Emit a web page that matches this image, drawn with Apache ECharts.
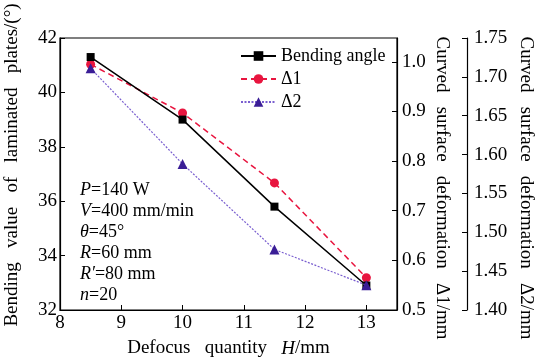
<!DOCTYPE html>
<html>
<head>
<meta charset="utf-8">
<script src="https://cdn.jsdelivr.net/npm/echarts@6/dist/echarts.min.js"></script>
<style>html,body{margin:0;padding:0;background:#fff}#c{width:537px;height:358px}</style>
</head>
<body>
<div id="c"></div>
<script>
const xValues = [8.5, 10, 11.5, 13];
const bendingAngle = [41.3, 39.0, 35.8, 32.9];
const delta1 = [0.995, 0.897, 0.756, 0.565];
const delta2 = [1.711, 1.588, 1.478, 1.432];
const seriesNames = ['Bending angle', 'Δ1', 'Δ2'];
const paramLines = ['{i|P}=140 W', '{i|V}=400 mm/min', '{i|θ}=45°', '{i|R}=60 mm', "{i|R′}=80 mm", '{i|n}=20'];

const F = '"Liberation Serif","Times New Roman",serif';
const pair = (arr) => xValues.map((x, i) => [x, arr[i]]);

const chart = echarts.init(document.getElementById('c'));
chart.setOption({
  animation: false,
  backgroundColor: '#fff',
  textStyle: { fontFamily: F },
  grid: { left: 60, top: 38, right: 140, bottom: 48, outerBoundsMode: 'none', containLabel: false, show: true, borderColor: '#000', borderWidth: 1.2, backgroundColor: 'transparent' },
  legend: {
    orient: 'vertical', left: 235, top: 42, itemWidth: 35, itemHeight: 12, itemGap: 5,
    textStyle: { fontFamily: F, fontSize: 18, color: '#000', lineHeight: 18 },
    data: seriesNames
  },
  xAxis: {
    type: 'value', min: 8, max: 13.5, interval: 1,
    name: 'Defocus   quantity   {i|H}/mm', nameLocation: 'middle', nameGap: 29, nameMoveOverlap: false,
    nameTextStyle: { fontFamily: F, fontSize: 19, color: '#000', rich: { i: { fontFamily: F, fontSize: 19, fontStyle: 'italic', color: '#000' } } },
    axisLine: { lineStyle: { color: '#000', width: 1.2 } },
    axisTick: { inside: true, length: 5, lineStyle: { color: '#000' } },
    axisLabel: { fontFamily: F, fontSize: 19, color: '#000', showMaxLabel: false, margin: 4 },
    splitLine: { show: false }
  },
  yAxis: [
    {
      type: 'value', min: 32, max: 42, interval: 2, position: 'left',
      name: 'Bending   value   of   laminated   plates/(°)', nameLocation: 'middle', nameGap: 38, nameRotate: 90, nameMoveOverlap: false,
      nameTextStyle: { fontFamily: F, fontSize: 19, color: '#000', padding: [0, 0, 0, 18] },
      axisLine: { show: true, lineStyle: { color: '#000', width: 1.2 } },
      axisTick: { inside: true, length: 5, lineStyle: { color: '#000' } },
      axisLabel: { fontFamily: F, fontSize: 19, color: '#000', margin: 3 },
      splitLine: { show: false }
    },
    {
      type: 'value', min: 0.5, max: 1.048, interval: 0.1, position: 'right',
      name: 'Curved   surface   deformation   Δ1/mm', nameLocation: 'middle', nameGap: 35, nameRotate: -90, nameMoveOverlap: false,
      nameTextStyle: { fontFamily: F, fontSize: 19, color: '#000', padding: [0, 0, 0, 28] },
      axisLine: { show: true, lineStyle: { color: '#000', width: 1.2 } },
      axisTick: { inside: true, length: 5, lineStyle: { color: '#000' } },
      axisLabel: { fontFamily: F, fontSize: 19, color: '#000', margin: 5, showMaxLabel: false, formatter: v => v.toFixed(1) },
      splitLine: { show: false }
    },
    {
      type: 'value', min: 1.40, max: 1.75, interval: 0.05, position: 'right', offset: 70,
      name: 'Curved   surface   deformation   Δ2/mm', nameLocation: 'middle', nameGap: 49, nameRotate: -90, nameMoveOverlap: false,
      nameTextStyle: { fontFamily: F, fontSize: 19, color: '#000', padding: [0, 0, 0, 28] },
      axisLine: { show: true, lineStyle: { color: '#000', width: 1.2 } },
      axisTick: { inside: true, length: 5, lineStyle: { color: '#000' } },
      axisLabel: { fontFamily: F, fontSize: 19, color: '#000', margin: 7, formatter: v => v.toFixed(2) },
      splitLine: { show: false }
    }
  ],
  graphic: [{
    type: 'text', left: 80, top: 180,
    style: {
      text: paramLines.join('\n'),
      font: '18px ' + F, fill: '#000', lineHeight: 21,
      rich: { i: { fontFamily: F, fontSize: 18, fontStyle: 'italic', lineHeight: 21, fill: '#000' } }
    }
  }],
  series: [
    {
      name: seriesNames[0], type: 'line', yAxisIndex: 0, data: pair(bendingAngle),
      symbol: 'rect', symbolSize: 8,
      lineStyle: { color: '#000', width: 1.5 }, itemStyle: { color: '#000' }, z: 3
    },
    {
      name: seriesNames[1], type: 'line', yAxisIndex: 1, data: pair(delta1),
      symbol: 'circle', symbolSize: 9,
      lineStyle: { color: '#e8153f', width: 1.5, type: [6, 4] }, itemStyle: { color: '#e8153f' }, z: 2
    },
    {
      name: seriesNames[2], type: 'line', yAxisIndex: 2, data: pair(delta2),
      symbol: 'triangle', symbolSize: 10,
      lineStyle: { color: '#7a5fd0', width: 1.2, type: [2, 1.5] }, itemStyle: { color: '#3a1d96' }, z: 4
    }
  ]
});
</script>
</body>
</html>
